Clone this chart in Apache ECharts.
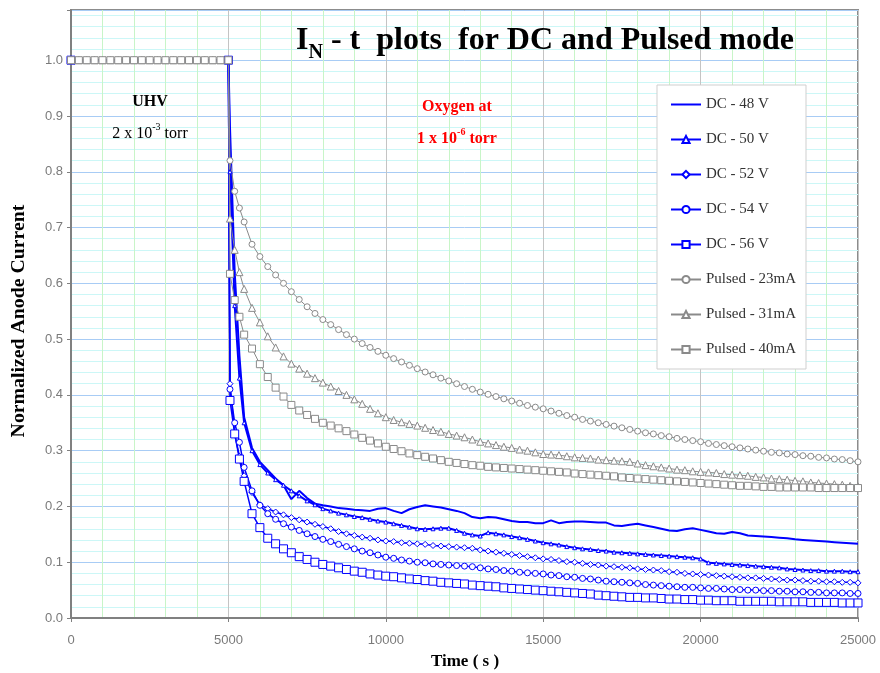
<!DOCTYPE html>
<html>
<head>
<meta charset="utf-8">
<script src="https://cdn.jsdelivr.net/npm/echarts@6/dist/echarts.min.js"></script>
<style>
html,body{margin:0;padding:0;background:#fff;}
#chart{width:880px;height:673px;}
</style>
</head>
<body>
<div id="chart"></div>
<script>
// ---------------- data ----------------
const seriesNames = ['DC - 48 V','DC - 50 V','DC - 52 V','DC - 54 V','DC - 56 V','Pulsed - 23mA','Pulsed - 31mA','Pulsed - 40mA'];

const xTicks = [0, 5000, 10000, 15000, 20000, 25000];
const yTicks = [0.0, 0.1, 0.2, 0.3, 0.4, 0.5, 0.6, 0.7, 0.8, 0.9, 1.0];

// UHV part (pulsed measurements), normalized current = 1
const uhvTimes  = [0,250,500,750,1000,1250,1500,1750,2000,2250,2500,2750,3000,3250,3500,3750,4000,4250,4500,4750];
const uhvValues = [1,1,1,1,1,1,1,1,1,1,1,1,1,1,1,1,1,1,1,1];
// UHV part (DC measurements)
const dcStartTimes  = [0];
const dcStartValues = [1.0];

// Oxygen exposure part
const decayTimes = [5000,5050,5200,5350,5500,5750,6000,6250,6500,6750,
  7000,7250,7500,7750,8000,8250,8500,8750,9000,9250,
  9500,9750,10000,10250,10500,10750,11000,11250,11500,11750,
  12000,12250,12500,12750,13000,13250,13500,13750,14000,14250,
  14500,14750,15000,15250,15500,15750,16000,16250,16500,16750,
  17000,17250,17500,17750,18000,18250,18500,18750,19000,19250,
  19500,19750,20000,20250,20500,20750,21000,21250,21500,21750,
  22000,22250,22500,22750,23000,23250,23500,23750,24000,24250,
  24500,24750,25000];

const dc48 = [1.0,0.88,0.62,0.47,0.36,0.305,0.28,0.265,0.25,0.238,
  0.213,0.228,0.215,0.205,0.202,0.2,0.197,0.196,0.194,0.193,
  0.192,0.196,0.197,0.192,0.188,0.195,0.199,0.202,0.2,0.198,
  0.195,0.192,0.188,0.181,0.179,0.181,0.18,0.177,0.174,0.172,
  0.172,0.17,0.17,0.175,0.17,0.172,0.173,0.173,0.172,0.171,
  0.171,0.166,0.165,0.167,0.169,0.166,0.163,0.16,0.157,0.156,
  0.159,0.161,0.158,0.155,0.152,0.151,0.154,0.152,0.148,0.147,
  0.146,0.145,0.144,0.143,0.141,0.14,0.139,0.138,0.137,0.136,
  0.135,0.134,0.133];

const dc50 = [1.0,0.80,0.56,0.43,0.35,0.3,0.275,0.26,0.248,0.238,
  0.228,0.219,0.21,0.203,0.196,0.192,0.188,0.185,0.182,0.18,
  0.177,0.174,0.172,0.169,0.166,0.163,0.16,0.159,0.16,0.161,
  0.161,0.157,0.152,0.149,0.147,0.153,0.151,0.149,0.146,0.144,
  0.141,0.138,0.135,0.133,0.131,0.128,0.126,0.124,0.123,0.121,
  0.12,0.118,0.117,0.116,0.115,0.114,0.113,0.112,0.111,0.11,
  0.109,0.108,0.106,0.099,0.098,0.097,0.096,0.095,0.094,0.093,
  0.092,0.091,0.09,0.088,0.087,0.086,0.085,0.085,0.084,0.084,
  0.084,0.083,0.083];

const dc52 = [1.0,0.42,0.33,0.29,0.255,0.225,0.203,0.196,0.19,0.185,
  0.18,0.176,0.172,0.168,0.164,0.16,0.155,0.151,0.148,0.145,
  0.143,0.14,0.138,0.137,0.135,0.134,0.133,0.132,0.13,0.129,
  0.128,0.127,0.126,0.125,0.122,0.12,0.118,0.116,0.114,0.112,
  0.11,0.108,0.106,0.105,0.103,0.101,0.1,0.098,0.096,0.095,
  0.093,0.092,0.091,0.09,0.088,0.087,0.086,0.085,0.083,0.082,
  0.08,0.079,0.078,0.077,0.076,0.075,0.074,0.073,0.072,0.072,
  0.071,0.07,0.069,0.068,0.068,0.067,0.066,0.066,0.065,0.065,
  0.064,0.064,0.063];

const dc54 = [1.0,0.41,0.35,0.315,0.27,0.228,0.202,0.187,0.177,0.169,
  0.163,0.157,0.151,0.146,0.141,0.137,0.132,0.128,0.124,0.12,
  0.117,0.113,0.109,0.107,0.104,0.102,0.1,0.099,0.097,0.096,
  0.095,0.094,0.093,0.092,0.09,0.088,0.087,0.085,0.084,0.082,
  0.081,0.08,0.079,0.077,0.076,0.074,0.073,0.071,0.07,0.068,
  0.066,0.065,0.064,0.063,0.062,0.06,0.059,0.058,0.057,0.056,
  0.055,0.055,0.054,0.053,0.053,0.052,0.051,0.051,0.05,0.05,
  0.049,0.049,0.048,0.048,0.047,0.047,0.046,0.046,0.045,0.045,
  0.045,0.044,0.044];

const dc56 = [1.0,0.39,0.33,0.285,0.245,0.187,0.162,0.143,0.133,0.124,
  0.117,0.11,0.105,0.1,0.096,0.093,0.09,0.087,0.084,0.082,
  0.079,0.077,0.075,0.074,0.072,0.07,0.069,0.067,0.066,0.064,
  0.063,0.062,0.061,0.059,0.058,0.057,0.056,0.054,0.053,0.052,
  0.051,0.05,0.049,0.048,0.047,0.046,0.045,0.044,0.043,0.041,
  0.04,0.039,0.038,0.037,0.037,0.036,0.036,0.035,0.034,0.034,
  0.033,0.033,0.032,0.032,0.031,0.031,0.031,0.03,0.03,0.03,
  0.03,0.03,0.029,0.029,0.029,0.029,0.028,0.028,0.028,0.028,
  0.027,0.027,0.027];

const p23 = [1.0,0.82,0.765,0.735,0.71,0.67,0.648,0.63,0.615,0.6,
  0.585,0.571,0.558,0.546,0.535,0.526,0.517,0.508,0.5,0.492,
  0.485,0.478,0.471,0.465,0.459,0.453,0.447,0.441,0.436,0.43,
  0.425,0.42,0.415,0.41,0.405,0.401,0.397,0.393,0.389,0.385,
  0.381,0.378,0.375,0.371,0.367,0.363,0.36,0.356,0.353,0.35,
  0.347,0.344,0.341,0.338,0.335,0.332,0.33,0.327,0.325,0.322,
  0.32,0.318,0.316,0.313,0.311,0.309,0.307,0.305,0.303,0.301,
  0.299,0.297,0.296,0.294,0.293,0.291,0.29,0.288,0.287,0.285,
  0.284,0.282,0.28];

const p31 = [1.0,0.716,0.66,0.62,0.59,0.556,0.53,0.505,0.485,0.469,
  0.456,0.447,0.438,0.43,0.422,0.415,0.407,0.4,0.392,0.384,
  0.375,0.367,0.36,0.355,0.351,0.348,0.345,0.341,0.337,0.334,
  0.33,0.327,0.324,0.32,0.316,0.313,0.31,0.307,0.305,0.302,
  0.3,0.297,0.294,0.293,0.292,0.29,0.288,0.287,0.286,0.284,
  0.283,0.282,0.281,0.28,0.277,0.274,0.272,0.27,0.268,0.266,
  0.265,0.263,0.262,0.261,0.26,0.258,0.257,0.256,0.255,0.253,
  0.252,0.25,0.249,0.248,0.246,0.245,0.243,0.242,0.241,0.24,
  0.239,0.237,0.236];

const p40 = [1.0,0.617,0.57,0.54,0.508,0.483,0.455,0.432,0.413,0.397,
  0.382,0.372,0.364,0.357,0.35,0.345,0.34,0.335,0.329,0.323,
  0.318,0.313,0.307,0.303,0.299,0.295,0.292,0.289,0.286,0.283,
  0.28,0.278,0.276,0.274,0.273,0.271,0.27,0.269,0.268,0.267,
  0.266,0.265,0.264,0.263,0.262,0.261,0.259,0.258,0.257,0.256,
  0.255,0.254,0.252,0.251,0.25,0.249,0.248,0.247,0.246,0.245,
  0.244,0.243,0.242,0.241,0.24,0.239,0.238,0.237,0.237,0.236,
  0.235,0.235,0.234,0.234,0.234,0.234,0.234,0.233,0.233,0.233,
  0.233,0.233,0.233];

// ---------------- build ----------------
function pairs(ts, vs){ return ts.map((t,i)=>[t, vs[i]]); }
const dcData = v => pairs(dcStartTimes, dcStartValues).concat(pairs(decayTimes, v));
const pData  = v => pairs(uhvTimes, uhvValues).concat(pairs(decayTimes, v));

const BLUE = '#0000ff', GRAY = '#8a8a8a';
const SERIF = "'Liberation Serif', 'Times New Roman', serif";
const SANS  = "'Liberation Sans', Arial, sans-serif";

function mk(name, data, color, symbol, size, width){
  return {
    name, type:'line', data,
    symbol, symbolSize:size, showSymbol: symbol !== 'none',
    lineStyle:{color, width},
    itemStyle:{color:'#ffffff', borderColor:color, borderWidth:1},
    emphasis:{disabled:true},
    animation:false
  };
}

const series = [
  mk(seriesNames[0], dcData(dc48), BLUE, 'none', 0, 2),
  mk(seriesNames[1], dcData(dc50), BLUE, 'triangle', 4, 2),
  mk(seriesNames[2], dcData(dc52), BLUE, 'diamond', 6, 1.5),
  mk(seriesNames[3], dcData(dc54), BLUE, 'circle', 6, 1.5),
  mk(seriesNames[4], dcData(dc56), BLUE, 'rect', 8, 1.5),
  mk(seriesNames[5], pData(p23), GRAY, 'circle', 6, 1),
  mk(seriesNames[6], pData(p31), GRAY, 'triangle', 7, 1),
  mk(seriesNames[7], pData(p40), GRAY, 'rect', 7, 1)
];

const legendData = seriesNames.map((n, i) => i === 0
  ? {name:n, icon:'path://M0,0 H30 V2 H0 Z', itemStyle:{color:BLUE, borderWidth:0}}
  : {name:n});

const chart = echarts.init(document.getElementById('chart'), null, {renderer:'canvas'});
chart.setOption({
  animation:false,
  backgroundColor:'#ffffff',
  grid:{left:71, right:22, top:10, bottom:55, show:true, borderColor:'#8c8c8c', borderWidth:2, backgroundColor:'#ffffff'},
  xAxis:{
    type:'value', min:xTicks[0], max:xTicks[xTicks.length-1], interval:5000,
    axisLine:{show:true, onZero:false, lineStyle:{color:'#808080', width:2}},
    axisTick:{show:true, length:4, lineStyle:{color:'#808080'}},
    axisLabel:{color:'#7a7a7a', fontFamily:SANS, fontSize:13, margin:16, formatter: v => String(v)},
    splitLine:{show:true, lineStyle:{color:'#c4c4c4', width:1}},
    minorTick:{show:false, splitNumber:5},
    minorSplitLine:{show:true, lineStyle:{color:'#c8f5c8', width:1}}
  },
  yAxis:{
    type:'value', min:0, max:1.09, interval:0.1,
    axisLine:{show:true, onZero:false, lineStyle:{color:'#808080', width:2}},
    axisTick:{show:true, length:4, lineStyle:{color:'#808080'}},
    axisLabel:{color:'#7a7a7a', fontFamily:SANS, fontSize:13, margin:8,
      formatter: v => (v > 1.0001 ? '' : v.toFixed(1))},
    splitLine:{show:true, lineStyle:{color:'#a8ccf5', width:1}},
    minorTick:{show:false, splitNumber:5},
    minorSplitLine:{show:true, lineStyle:{color:'#ccf7f7', width:1}}
  },
  legend:{
    show:true, orient:'vertical', left:657, top:85,
    data:legendData,
    itemWidth:30, itemHeight:9, itemGap:20,
    padding:[12,10,12,13],
    backgroundColor:'#ffffff', borderColor:'#cfcfcf', borderWidth:1,
    textStyle:{fontFamily:SERIF, fontSize:15, color:'#333333'},
    selectedMode:false
  },
  graphic:[
    {type:'text', left:296, top:25, z:100, style:{
      text:'{a|I}{s|N}{a| - t  plots  for DC and Pulsed mode}',
      rich:{
        a:{font:"bold 32px "+SERIF, fill:'#000', lineHeight:38, verticalAlign:'bottom'},
        s:{font:"bold 20px "+SERIF, fill:'#000', lineHeight:38, verticalAlign:'bottom', padding:[0,0,-6,0]}
      }
    }},
    {type:'text', x:150, y:102, z:100, style:{text:'UHV', font:"bold 16px "+SERIF, fill:'#000', align:'center', verticalAlign:'middle', textAlign:'center', textVerticalAlign:'middle'}},
    {type:'text', x:150, y:132, z:100, style:{
      text:'{n|2 x 10}{p|-3}{n| torr}', align:'center', verticalAlign:'middle', textAlign:'center', textVerticalAlign:'middle',
      rich:{ n:{font:"16px "+SERIF, fill:'#000', lineHeight:20, verticalAlign:'bottom'},
             p:{font:"10px "+SERIF, fill:'#000', lineHeight:20, verticalAlign:'top'} }
    }},
    {type:'text', x:457, y:107, z:100, style:{text:'Oxygen at', font:"bold 16px "+SERIF, fill:'#ff0000', align:'center', verticalAlign:'middle', textAlign:'center', textVerticalAlign:'middle'}},
    {type:'text', x:457, y:137, z:100, style:{
      text:'{n|1 x 10}{p|-6}{n| torr}', align:'center', verticalAlign:'middle', textAlign:'center', textVerticalAlign:'middle',
      rich:{ n:{font:"bold 16px "+SERIF, fill:'#ff0000', lineHeight:20, verticalAlign:'bottom'},
             p:{font:"bold 10px "+SERIF, fill:'#ff0000', lineHeight:20, verticalAlign:'top'} }
    }},
    {type:'text', x:465, y:662, z:100, style:{text:'Time ( s )', font:"bold 17px "+SERIF, fill:'#000', align:'center', verticalAlign:'middle', textAlign:'center', textVerticalAlign:'middle'}},
    {type:'text', x:19, y:321, rotation:Math.PI/2, scaleX:1.1, z:100, style:{text:'Normalized Anode Current', font:"bold 18px "+SERIF, fill:'#000', align:'center', verticalAlign:'middle', textAlign:'center', textVerticalAlign:'middle'}}
  ],
  series
});
</script>
</body>
</html>
